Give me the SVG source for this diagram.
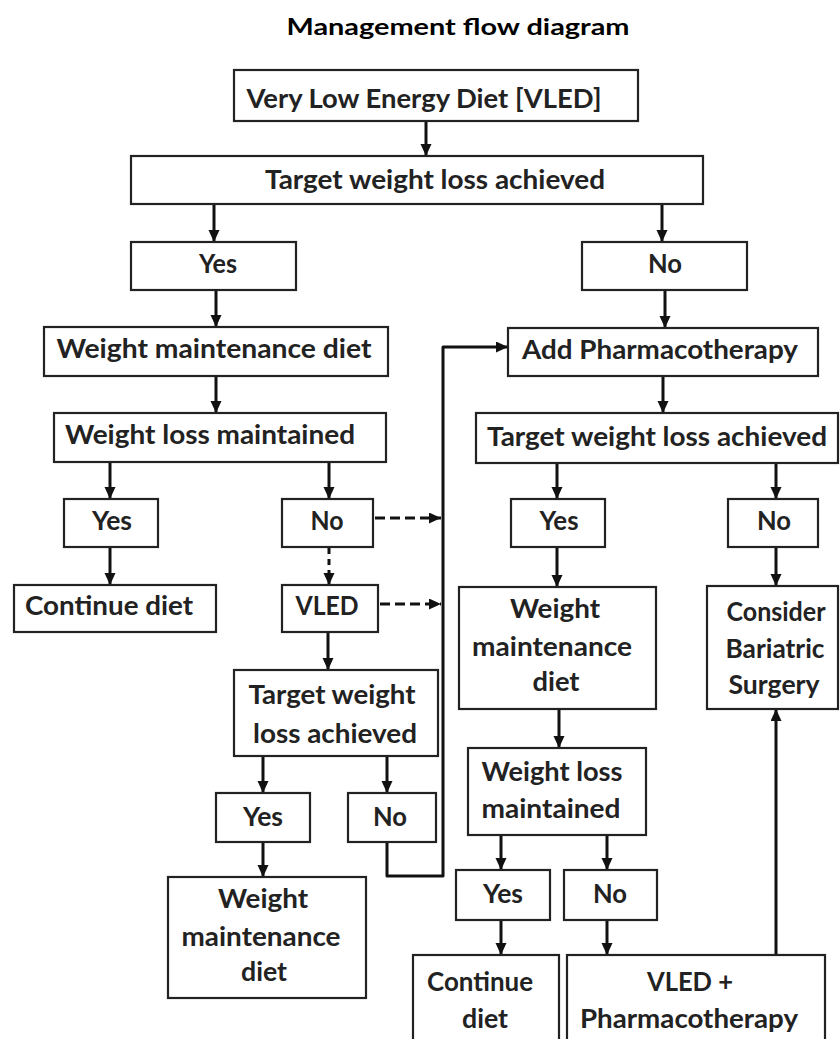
<svg xmlns="http://www.w3.org/2000/svg" width="840" height="1039" viewBox="0 0 840 1039">
<style>
.box{fill:#fff;stroke:#222;stroke-width:2.2}
.t{font-family:Lato,"Liberation Sans",sans-serif;font-weight:700;font-size:27px;fill:#222;text-anchor:middle}
.title{font-family:Lato,"Liberation Sans",sans-serif;font-weight:700;font-size:23px;fill:#000;text-anchor:middle}
.c{fill:none;stroke:#111;stroke-width:3}
.d{fill:none;stroke:#111;stroke-width:3;stroke-dasharray:10 5}
</style>
<defs>
<marker id="ah" markerUnits="userSpaceOnUse" markerWidth="13" markerHeight="12" refX="12" refY="5.5" orient="auto">
<path d="M0,0 L12,5.5 L0,11 z" fill="#111"/>
</marker>
</defs>
<rect width="840" height="1039" fill="#fff"/>
<text class="title" x="458" y="35" textLength="343" lengthAdjust="spacingAndGlyphs">Management flow diagram</text>

<g id="connectors">
<path class="c" d="M426,121 V156" marker-end="url(#ah)"/>
<path class="c" d="M214,204 V242" marker-end="url(#ah)"/>
<path class="c" d="M662,204 V242" marker-end="url(#ah)"/>
<path class="c" d="M216,290 V327" marker-end="url(#ah)"/>
<path class="c" d="M216,376 V413" marker-end="url(#ah)"/>
<path class="c" d="M110,462 V499" marker-end="url(#ah)"/>
<path class="c" d="M329,462 V499" marker-end="url(#ah)"/>
<path class="c" d="M110,547 V585" marker-end="url(#ah)"/>
<path class="d" d="M329,548 V585" style="stroke-dasharray:6 5" marker-end="url(#ah)"/>
<path class="d" d="M375,518 H441" marker-end="url(#ah)"/>
<path class="d" d="M380,604 H441" marker-end="url(#ah)"/>
<path class="c" d="M387,842 V876 H443 V347 H508" stroke-linejoin="round" marker-end="url(#ah)"/>
<path class="c" d="M328,632 V670" marker-end="url(#ah)"/>
<path class="c" d="M263,756 V793" marker-end="url(#ah)"/>
<path class="c" d="M387,756 V793" marker-end="url(#ah)"/>
<path class="c" d="M263,842 V877" marker-end="url(#ah)"/>
<path class="c" d="M665,290 V328" marker-end="url(#ah)"/>
<path class="c" d="M663,376 V413" marker-end="url(#ah)"/>
<path class="c" d="M557,463 V499" marker-end="url(#ah)"/>
<path class="c" d="M776,463 V499" marker-end="url(#ah)"/>
<path class="c" d="M557,547 V587" marker-end="url(#ah)"/>
<path class="c" d="M776,547 V586" marker-end="url(#ah)"/>
<path class="c" d="M559,709 V748" marker-end="url(#ah)"/>
<path class="c" d="M501,835 V870" marker-end="url(#ah)"/>
<path class="c" d="M607,835 V870" marker-end="url(#ah)"/>
<path class="c" d="M501,920 V955" marker-end="url(#ah)"/>
<path class="c" d="M607,920 V955" marker-end="url(#ah)"/>
<path class="c" d="M776,955 V709" marker-end="url(#ah)"/>
</g>

<g id="n1"><rect class="box" x="234" y="70" width="404" height="51"/><text class="t" x="424" y="108" textLength="355" lengthAdjust="spacingAndGlyphs">Very Low Energy Diet [VLED]</text></g>
<g id="n2"><rect class="box" x="131" y="156" width="572" height="48"/><text class="t" x="435" y="189" textLength="340" lengthAdjust="spacingAndGlyphs">Target weight loss achieved</text></g>
<g id="n3"><rect class="box" x="131" y="242" width="165" height="48"/><text class="t" x="218" y="273" textLength="38" lengthAdjust="spacingAndGlyphs">Yes</text></g>
<g id="n4"><rect class="box" x="582" y="242" width="165" height="48"/><text class="t" x="665" y="273" textLength="34" lengthAdjust="spacingAndGlyphs">No</text></g>
<g id="n5"><rect class="box" x="44" y="327" width="344" height="49"/><text class="t" x="214" y="358" textLength="315" lengthAdjust="spacingAndGlyphs">Weight maintenance diet</text></g>
<g id="n6"><rect class="box" x="54" y="413" width="332" height="49"/><text class="t" x="210" y="444" textLength="290" lengthAdjust="spacingAndGlyphs">Weight loss maintained</text></g>
<g id="n7"><rect class="box" x="64" y="499" width="94" height="48"/><text class="t" x="112" y="530" textLength="40" lengthAdjust="spacingAndGlyphs">Yes</text></g>
<g id="n8"><rect class="box" x="282" y="499" width="91" height="48"/><text class="t" x="327" y="530" textLength="33" lengthAdjust="spacingAndGlyphs">No</text></g>
<g id="n9"><rect class="box" x="14" y="585" width="202" height="47"/><text class="t" x="109" y="615" textLength="168" lengthAdjust="spacingAndGlyphs">Continue  diet</text></g>
<g id="n10"><rect class="box" x="282" y="585" width="96" height="47"/><text class="t" x="327" y="615" textLength="63" lengthAdjust="spacingAndGlyphs">VLED</text></g>
<g id="n11"><rect class="box" x="234" y="670" width="204" height="86"/><text class="t" x="332" y="704" textLength="167" lengthAdjust="spacingAndGlyphs">Target weight</text><text class="t" x="335" y="743" textLength="164" lengthAdjust="spacingAndGlyphs">loss achieved</text></g>
<g id="n12"><rect class="box" x="216" y="793" width="94" height="49"/><text class="t" x="263" y="826" textLength="40" lengthAdjust="spacingAndGlyphs">Yes</text></g>
<g id="n13"><rect class="box" x="348" y="793" width="88" height="49"/><text class="t" x="390" y="826" textLength="34" lengthAdjust="spacingAndGlyphs">No</text></g>
<g id="n14"><rect class="box" x="168" y="877" width="198" height="121"/><text class="t" x="263" y="908" textLength="90" lengthAdjust="spacingAndGlyphs">Weight</text><text class="t" x="261" y="946" textLength="159" lengthAdjust="spacingAndGlyphs">maintenance</text><text class="t" x="264" y="981" textLength="46" lengthAdjust="spacingAndGlyphs">diet</text></g>
<g id="n15"><rect class="box" x="508" y="328" width="310" height="48"/><text class="t" x="660" y="359" textLength="276" lengthAdjust="spacingAndGlyphs">Add  Pharmacotherapy</text></g>
<g id="n16"><rect class="box" x="476" y="413" width="362" height="50"/><text class="t" x="657" y="446" textLength="340" lengthAdjust="spacingAndGlyphs">Target weight loss achieved</text></g>
<g id="n17"><rect class="box" x="511" y="499" width="94" height="48"/><text class="t" x="559" y="530" textLength="39" lengthAdjust="spacingAndGlyphs">Yes</text></g>
<g id="n18"><rect class="box" x="728" y="499" width="90" height="48"/><text class="t" x="774" y="530" textLength="34" lengthAdjust="spacingAndGlyphs">No</text></g>
<g id="n19"><rect class="box" x="459" y="587" width="197" height="122"/><text class="t" x="555" y="618" textLength="90" lengthAdjust="spacingAndGlyphs">Weight</text><text class="t" x="552" y="656" textLength="160" lengthAdjust="spacingAndGlyphs">maintenance</text><text class="t" x="556" y="691" textLength="47" lengthAdjust="spacingAndGlyphs">diet</text></g>
<g id="n20"><rect class="box" x="707" y="586" width="131" height="123"/><text class="t" x="776" y="621" textLength="99" lengthAdjust="spacingAndGlyphs">Consider</text><text class="t" x="775" y="658" textLength="99" lengthAdjust="spacingAndGlyphs">Bariatric</text><text class="t" x="774" y="694" textLength="91" lengthAdjust="spacingAndGlyphs">Surgery</text></g>
<g id="n21"><rect class="box" x="468" y="748" width="178" height="87"/><text class="t" x="552" y="781" textLength="141" lengthAdjust="spacingAndGlyphs">Weight loss</text><text class="t" x="551" y="818" textLength="139" lengthAdjust="spacingAndGlyphs">maintained</text></g>
<g id="n22"><rect class="box" x="456" y="870" width="94" height="50"/><text class="t" x="503" y="903" textLength="40" lengthAdjust="spacingAndGlyphs">Yes</text></g>
<g id="n23"><rect class="box" x="564" y="870" width="93" height="50"/><text class="t" x="610" y="903" textLength="34" lengthAdjust="spacingAndGlyphs">No</text></g>
<g id="n24"><rect class="box" x="413" y="955" width="146" height="100"/><text class="t" x="480" y="991" textLength="106" lengthAdjust="spacingAndGlyphs">Continue</text><text class="t" x="485" y="1028" textLength="46" lengthAdjust="spacingAndGlyphs">diet</text></g>
<g id="n25"><rect class="box" x="567" y="955" width="258" height="100"/><text class="t" x="690" y="991" textLength="86" lengthAdjust="spacingAndGlyphs">VLED +</text><text class="t" x="689" y="1028" textLength="218" lengthAdjust="spacingAndGlyphs">Pharmacotherapy</text></g>
</svg>
